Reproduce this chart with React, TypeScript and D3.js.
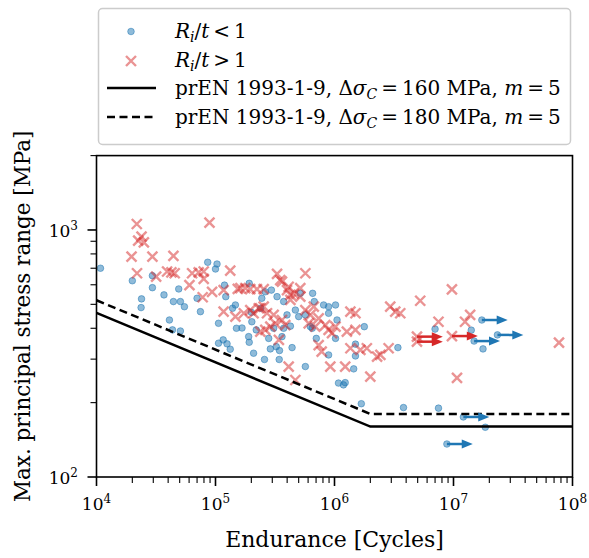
import React from 'react';
import * as d3 from 'd3';

// ---- data (N cycles, stress range MPa) ----
const blueData: [number, number][] = [
  [1.08e4,700],[2.0e4,623],[2.95e4,653],[2.95e4,584],[2.39e4,526],[2.37e4,485],[3.69e4,546],[4.91e4,577],
  [4.43e4,513],[5.07e4,513],[5.48e4,489],[4.1e4,432],[4.35e4,394],[5.07e4,390],[7.0e4,529],[7.47e4,467],
  [8.6e4,740],[1.03e5,728],[1.0e5,695],[1.19e5,598],[1.22e5,537],[1.39e5,482],[1.47e5,497],[1.06e5,419],
  [1.5e5,400],[1.67e5,401],[1.06e5,348],[1.16e5,359],[1.25e5,346],[1.33e5,329],[1.92e5,608],[2.45e5,529],
  [2.62e5,562],[2.95e5,571],[3.29e5,537],[3.74e5,513],[2.02e5,425],[2.0e5,464],[2.4e5,482],[1.9e5,370],
  [1.92e5,351],[2.09e5,317],[2.58e5,299],[2.8e5,364],[2.89e5,330],[3.24e5,337],[3.45e5,325],[3.43e5,299],
  [3.62e5,370],[3.08e5,400],[2.2e5,394],[4.4e5,334],[5.69e5,280],[6.55e5,554],[6.76e5,513],[8.1e5,497],
  [8.92e5,489],[1.02e6,497],[1.05e6,432],[8.92e5,460],[5.16e5,554],[4.69e5,474],[3.99e5,453],[6.5e5,400],
  [7.03e5,364],[5.0e5,446],[5.69e5,453],[6.27e5,406],[3.74e5,400],[4.26e5,408],[8.92e5,312],[1.02e6,364],
  [1.78e6,406],[1.5e6,345],[1.5e6,309],[1.45e6,274],[1.08e6,240],[1.19e6,236],[1.23e6,241],[1.68e6,198],
  [3.8e6,191],[7.48e6,190],[3.41e6,334],[7.0e6,397],[1.41e7,393],[1.77e7,330],[1.85e7,159],
];

const redData: [number, number][] = [
  [2.18e4,1057],[2.39e4,940],[2.24e4,905],[2.5e4,891],[1.97e4,780],[2.95e4,780],[4.43e4,785],[2.19e4,668],
  [3.17e4,647],[3.92e4,679],[4.26e4,674],[4.54e4,668],[6.36e4,668],[7.22e4,674],[6.04e4,598],[7.96e4,679],
  [7.96e4,634],[8.9e4,1071],[7.8e4,534],[9.36e4,562],[1.33e5,684],[1.54e5,578],[1.62e5,581],[1.96e5,576],
  [2.23e5,576],[2.54e5,576],[1.17e5,571],[1.17e5,467],[1.47e5,446],[1.73e5,460],[2.09e5,460],[2.38e5,482],
  [1.96e5,474],[2.71e5,460],[3.08e5,453],[2.38e5,388],[2.62e5,394],[2.89e5,406],[3.18e5,419],[3.62e5,432],
  [3.86e5,412],[3.41e5,359],[3.29e5,664],[3.62e5,618],[3.99e5,571],[4.26e5,546],[5.69e5,668],[5.16e5,581],
  [4.12e5,589],[4.54e5,554],[4.26e5,521],[5.16e5,537],[5.69e5,474],[6.27e5,453],[6.7e5,489],[6.07e5,419],
  [6.9e5,406],[7.36e5,439],[8.37e5,412],[8.92e5,394],[9.53e5,382],[1.02e6,406],[1.36e6,467],[1.27e6,388],
  [1.5e6,394],[1.36e6,332],[1.23e6,280],[9.22e5,280],[7.36e5,342],[7.8e5,322],[4.12e5,280],[4.69e5,247],
  [1.65e6,327],[1.87e6,332],[2.28e6,307],[2.43e6,312],[2.85e6,332],[2.0e6,255],[2.94e6,489],[3.24e6,467],
  [3.57e6,460],[5.25e6,517],[9.7e6,575],[7.48e6,425],[1.25e7,425],[1.38e7,453],[1.07e7,252],[7.7e7,350],
  [1.5e6,460],[3.5e5,627],[1.78e5,581],[2.31e5,482],[2.54e5,489],
];

const blueRunouts: [number, number][] = [[1.73e7,432],[2.34e7,376],[1.49e7,355],[1.21e7,175],[8.8e6,136]];
const redRunouts: [number, number][] = [[4.93e6,370],[4.93e6,353],[9.7e6,372]];

const curveCategories = [160, 180];
const curveDashes = ['none', '8,4.5'];
const slopeM = 5;
const kneeN = 2e6;
const xDomain: [number, number] = [1e4, 1e8];
const yDomain: [number, number] = [100, 2000];
const xMajor = [1e4, 1e5, 1e6, 1e7, 1e8];
const xMajorExp = ['4', '5', '6', '7', '8'];
const yMajor = [100, 1000];
const yMajorExp = ['2', '3'];

const BLUE = '#1f77b4';
const RED = '#d62728';
const FONT = 'DejaVu Serif';
const ARROW_FACTOR = 1.65;

function Arrow({ x0, x1, y0, color }: { x0: number; x1: number; y0: number; color: string }) {
  const hl = 11, hw = 4.5;
  return (
    <g>
      <line x1={x0} x2={x1 - hl + 1} y1={y0} y2={y0} stroke={color} strokeWidth={2.5} />
      <path d={`M${x1 - hl},${y0 - hw}L${x1},${y0}L${x1 - hl},${y0 + hw}Z`} fill={color} />
    </g>
  );
}

export default function App() {
  const W = 589, H = 558;
  const x = d3.scaleLog().domain(xDomain).range([96.5, 572.5]);
  const y = d3.scaleLog().domain(yDomain).range([477, 155.6]);
  const [x0, x1] = x.range();
  const [yb, yt] = y.range();

  const xMinor: number[] = [];
  for (let e = 4; e < 8; e++) for (let k = 2; k <= 9; k++) xMinor.push(k * Math.pow(10, e));
  const yMinor: number[] = [];
  for (let e = 2; e < 4; e++) for (let k = 2; k <= 9; k++) { const v = k * Math.pow(10, e); if (v <= 2000) yMinor.push(v); }

  const line = d3.line<[number, number]>().x(d => x(d[0])).y(d => y(d[1]));
  const curve = (c: number): [number, number][] => [
    [xDomain[0], c * Math.pow(kneeN / xDomain[0], 1 / slopeM)],
    [kneeN, c],
    [xDomain[1], c],
  ];

  const cs = 5;
  const cross = (cx: number, cy: number, key: string | number) => (
    <path key={key} d={`M${cx - cs},${cy - cs}L${cx + cs},${cy + cs}M${cx - cs},${cy + cs}L${cx + cs},${cy - cs}`}
      stroke={RED} strokeOpacity={0.5} strokeWidth={2.4} fill="none" />
  );
  const dot = (cx: number, cy: number, key: string | number) => (
    <circle key={key} cx={cx} cy={cy} r={3.3} fill={BLUE} fillOpacity={0.5} stroke={BLUE} strokeOpacity={0.5} strokeWidth={1} />
  );

  return (
    <svg width={W} height={H} style={{ position: 'absolute', left: 0, top: 0, fontFamily: FONT }}>
      <rect width={W} height={H} fill="white" />
      <defs>
        <clipPath id="plot"><rect x={x0} y={yt} width={x1 - x0} height={yb - yt} /></clipPath>
      </defs>
      <g clipPath="url(#plot)">
        {blueData.map((d, i) => dot(x(d[0]), y(d[1]), 'b' + i))}
        {blueRunouts.map((d, i) => dot(x(d[0]), y(d[1]), 'br' + i))}
        {redData.map((d, i) => cross(x(d[0]), y(d[1]), 'r' + i))}
        {redRunouts.map((d, i) => cross(x(d[0]), y(d[1]), 'rr' + i))}
        {curveCategories.map((c, i) => (
          <path key={'c' + i} d={line(curve(c)) || ''} fill="none" stroke="black" strokeWidth={2.5}
            strokeDasharray={curveDashes[i]} />
        ))}
        {blueRunouts.map((d, i) => (
          <Arrow key={'ba' + i} x0={x(d[0])} x1={x(d[0] * ARROW_FACTOR)} y0={y(d[1])} color={BLUE} />
        ))}
        {redRunouts.map((d, i) => (
          <Arrow key={'ra' + i} x0={x(d[0])} x1={x(d[0] * ARROW_FACTOR)} y0={y(d[1])} color={RED} />
        ))}
      </g>
      {/* frame */}
      <rect x={x0} y={yt} width={x1 - x0} height={yb - yt} fill="none" stroke="black" strokeWidth={1.6} />
      {/* x ticks */}
      {xMinor.map((v, i) => (
        <line key={'xm' + i} x1={x(v)} x2={x(v)} y1={yb} y2={yb + 6} stroke="black" strokeWidth={1.1} />
      ))}
      {xMajor.map((v, i) => (
        <g key={'xM' + i}>
          <line x1={x(v)} x2={x(v)} y1={yb} y2={yb + 9} stroke="black" strokeWidth={1.6} />
          <text x={x(v)} y={510} textAnchor="middle" fontSize={17}>
            10<tspan dy={-7} fontSize={12}>{xMajorExp[i]}</tspan>
          </text>
        </g>
      ))}
      {/* y ticks */}
      {yMinor.map((v, i) => (
        <line key={'ym' + i} x1={x0 - 6} x2={x0} y1={y(v)} y2={y(v)} stroke="black" strokeWidth={1.1} />
      ))}
      {yMajor.map((v, i) => (
        <g key={'yM' + i}>
          <line x1={x0 - 9} x2={x0} y1={y(v)} y2={y(v)} stroke="black" strokeWidth={1.6} />
          <text x={78} y={y(v) + 7} textAnchor="end" fontSize={17}>
            10<tspan dy={-7} fontSize={12}>{yMajorExp[i]}</tspan>
          </text>
        </g>
      ))}
      {/* axis labels */}
      <text x={(x0 + x1) / 2} y={547} textAnchor="middle" fontSize={22}>Endurance [Cycles]</text>
      <text transform={`translate(30,${(yt + yb) / 2}) rotate(-90)`} textAnchor="middle" fontSize={21.5}>
        Max. principal stress range [MPa]
      </text>
      {/* legend */}
      <g>
        <rect x={98.5} y={8.5} width={472} height={136} rx={4} fill="white" fillOpacity={0.85} stroke="#cccccc" strokeWidth={1.5} />
        {dot(131, 31.5, 'lg1')}
        {cross(131, 61, 'lg2')}
        <line x1={107} x2={156} y1={88} y2={88} stroke="black" strokeWidth={2.5} />
        <line x1={107} x2={156} y1={117} y2={117} stroke="black" strokeWidth={2.5} strokeDasharray={curveDashes[1]} />
        <text x={175} y={37.5} fontSize={20}>
          <tspan fontStyle="italic">R</tspan>
          <tspan fontStyle="italic" fontSize={14} dy={4}>i</tspan>
          <tspan dy={-4}>/</tspan>
          <tspan fontStyle="italic">t</tspan>
          <tspan>{'\u2009<\u20091'}</tspan>
        </text>
        <text x={175} y={67} fontSize={20}>
          <tspan fontStyle="italic">R</tspan>
          <tspan fontStyle="italic" fontSize={14} dy={4}>i</tspan>
          <tspan dy={-4}>/</tspan>
          <tspan fontStyle="italic">t</tspan>
          <tspan>{'\u2009>\u20091'}</tspan>
        </text>
        {curveCategories.map((c, i) => (
          <text key={'lt' + i} x={175} y={94.5 + 29 * i} fontSize={20}>
            <tspan>{'prEN 1993-1-9, \u0394'}</tspan>
            <tspan fontStyle="italic">σ</tspan>
            <tspan fontStyle="italic" fontSize={14} dy={4}>C</tspan>
            <tspan dy={-4}>{`\u2009=\u2009${c} MPa, `}</tspan>
            <tspan fontStyle="italic">m</tspan>
            <tspan>{'\u2009=\u20095'}</tspan>
          </text>
        ))}
      </g>
    </svg>
  );
}
